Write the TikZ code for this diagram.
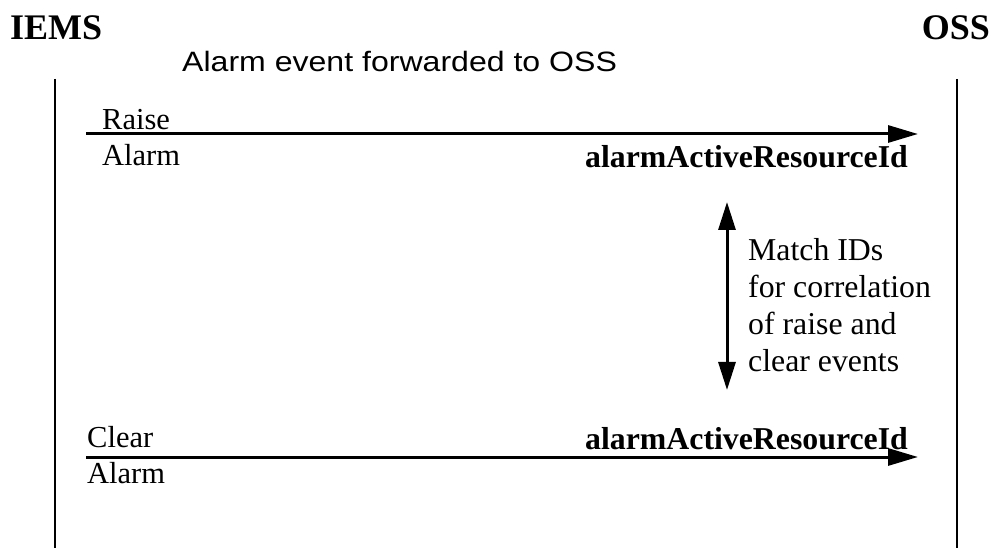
\documentclass[tikz,border=0pt]{standalone}
\usepackage{fontspec}
\setmainfont{Liberation Serif}
\newfontfamily\headsans{Liberation Sans}
\usetikzlibrary{arrows.meta}
\tikzset{
  lifeline/.style={line width=2.8pt},
  msg/.style={line width=3pt, -{Triangle[length=30pt,width=17pt]}},
  span/.style={line width=3pt, {Triangle[length=28pt,width=17pt]}-{Triangle[length=28pt,width=17pt]}},
  actor/.style={inner sep=0pt, font=\fontsize{36}{40}\selectfont\bfseries},
  plain/.style={inner sep=0pt, font=\fontsize{30.5}{37}\selectfont},
  note/.style={inner sep=0pt, font=\fontsize{31.8}{37}\selectfont},
  ident/.style={inner sep=0pt, font=\fontsize{31.8}{37}\selectfont\bfseries},
  heading/.style={inner sep=0pt, font=\fontsize{28}{32}\selectfont\headsans},
}
\begin{document}
\begin{tikzpicture}[x=1pt,y=-1pt]
  \useasboundingbox (0,0) rectangle (997,548);

  % actors
  \node[actor, anchor=base west] (iems) at (10,40) {IEMS};
  \node[actor, anchor=base east] (oss) at (990,40) {OSS};
  \node[heading, anchor=base west] (fwd) at (182,72) {\scalebox{1.145}[1]{Alarm event forwarded to OSS}};

  % lifelines
  \coordinate (iemsTop) at (55,79);
  \coordinate (iemsBot) at (55,548);
  \coordinate (ossTop) at (957,79);
  \coordinate (ossBot) at (957,548);
  \draw[lifeline] (iemsTop) -- (iemsBot);
  \draw[lifeline] (ossTop) -- (ossBot);

  % raise message
  \coordinate (raiseFrom) at (86,134);
  \coordinate (raiseTo) at (918,134);
  \draw[msg] (raiseFrom) -- (raiseTo);
  \node[plain, anchor=base west] (raiseA) at (102,130) {Raise};
  \node[plain, anchor=base west] (raiseB) at (102,166) {Alarm};
  \node[ident, anchor=base west] (raiseId) at (585,168) {alarmActiveResourceId};

  % correlation (base anchor of a multi-line node sits on its last line)
  \coordinate (spanTop) at (727,202);
  \coordinate (spanBot) at (727,390);
  \draw[span] (spanTop) -- (spanBot);
  \node[note, anchor=base west, align=left] (match) at (748,371)
    {Match IDs\\for correlation\\of raise and\\clear events};

  % clear message
  \coordinate (clearFrom) at (86,457);
  \coordinate (clearTo) at (918,457);
  \draw[msg] (clearFrom) -- (clearTo);
  \node[plain, anchor=base west] (clearA) at (87,447) {Clear};
  \node[plain, anchor=base west] (clearB) at (87,483) {Alarm};
  \node[ident, anchor=base west] (clearId) at (585,449) {alarmActiveResourceId};
\end{tikzpicture}
\end{document}
